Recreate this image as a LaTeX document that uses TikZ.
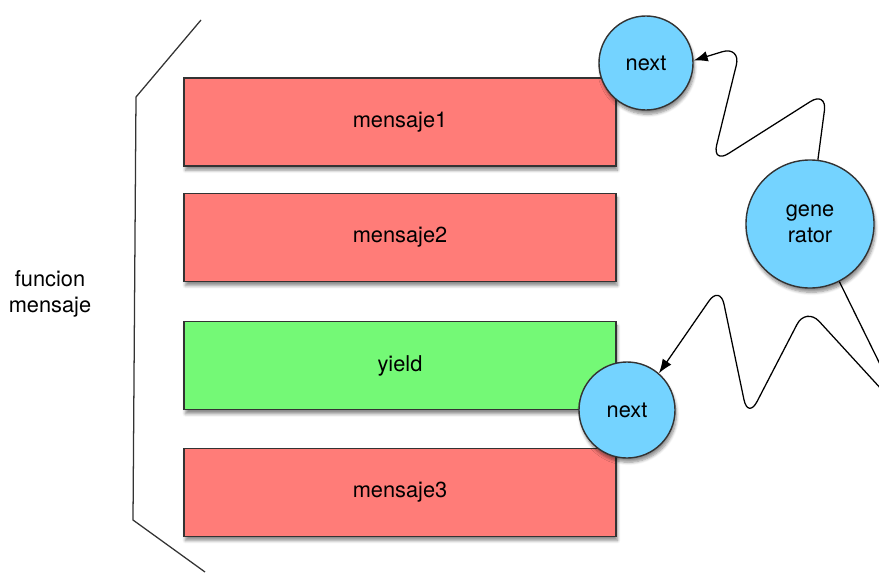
\documentclass[tikz,border=0pt]{standalone}
\usepackage{fontspec}
\setmainfont{TeX Gyre Heros}
\usepackage{tikz}
\usetikzlibrary{positioning, arrows.meta, shadows.blur}

\definecolor{msgred}{RGB}{255,124,120}
\definecolor{yieldgreen}{RGB}{116,249,118}
\definecolor{genblue}{RGB}{116,211,255}

\begin{document}
\begin{tikzpicture}[
  x=0.025cm, y=-0.025cm,
  font=\fontsize{15.5}{18.5}\selectfont,
  node distance=0.65cm,
  block/.style={rectangle, draw=black!80, line width=1pt, minimum width=10.8cm, minimum height=2.2cm,
    blur shadow={shadow xshift=1pt, shadow yshift=-3pt, shadow blur steps=6, shadow opacity=45}},
  msg/.style={block, fill=msgred},
  yieldbox/.style={block, fill=yieldgreen},
  call/.style={circle, draw=black!80, line width=1pt, fill=genblue, align=center, inner sep=0pt,
    blur shadow={shadow xshift=1pt, shadow yshift=-3pt, shadow blur steps=6, shadow opacity=45}},
  wave/.style={-{Latex[length=10pt, width=7.5pt]}, line width=0.9pt, rounded corners=14pt}
]
\useasboundingbox (0,0) rectangle (879,572);

% the message function
\draw[line width=0.9pt, black!80] (201,20) -- (136,97) -- (133,520) -- (205,572);
\node[align=center] (fn) at (50,294) {funcion\\mensaje};

\node[msg] (m1) at (400,122) {mensaje1};
\node[msg, below=of m1] (m2) {mensaje2};
\node[yieldbox, below=0.97cm of m2] (y) {yield};
\node[msg, below=0.93cm of y] (m3) {mensaje3};

% the generator and its next calls
\node[call, minimum size=3.2cm] (gen) at (810,224) {gene\\rator};
\node[call, minimum size=2.35cm] (n1) at (646,63) {next};
\node[call, minimum size=2.4cm] (n2) at (627,410) {next};

\draw[wave] (gen.83) -- (827,91) -- (712,164) -- (741,46) -- (n1.3);
\draw[wave] (gen.-63) -- (905,415) -- (806,307) -- (748,419) -- (720,285) -- (n2.49);

\end{tikzpicture}
\end{document}
